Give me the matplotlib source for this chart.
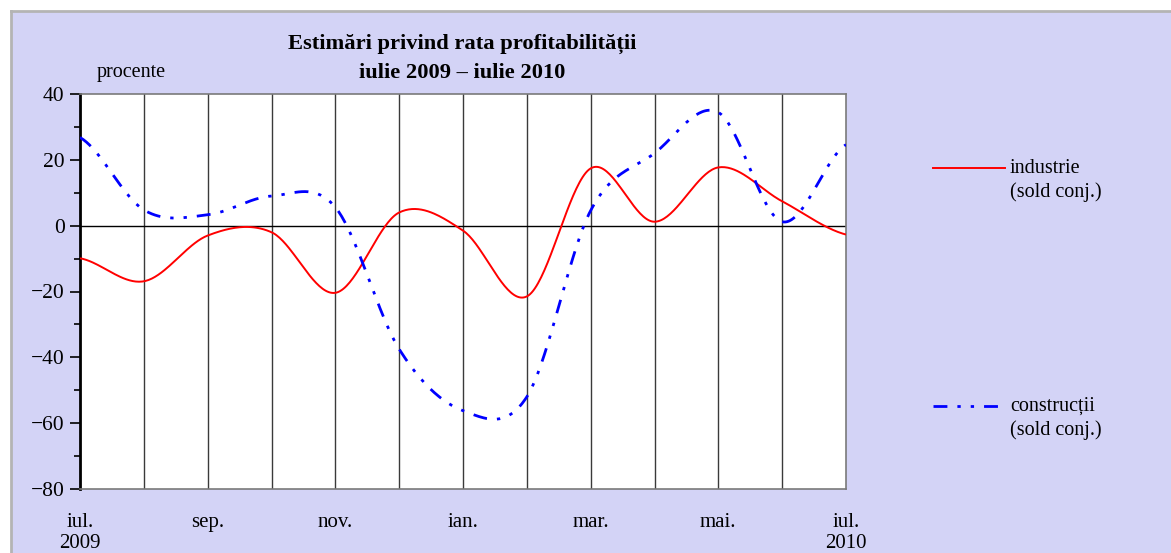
import numpy as np
import matplotlib
matplotlib.use('Agg')
import matplotlib.pyplot as plt
from matplotlib.lines import Line2D
from matplotlib.patches import Rectangle

# ---- data (monthly, iul. 2009 - iul. 2010) ----
months = ['iul.', 'aug.', 'sep.', 'oct.', 'nov.', 'dec.', 'ian.',
          'feb.', 'mar.', 'apr.', 'mai.', 'iun.', 'iul.']
tick_labels = ['iul.\n2009', '', 'sep.', '', 'nov.', '', 'ian.',
               '', 'mar.', '', 'mai.', '', 'iul.\n2010']
industrie = [-9.9, -16.9, -3.0, -2.0, -20.4, 4.0, -1.5,
             -21.5, 17.4, 1.2, 17.7, 7.4, -2.7]
constructii = [26.8, 4.8, 3.3, 9.0, 5.6, -37.5, -56.2,
               -52.0, 4.6, 22.0, 34.4, 1.2, 24.6]

W, H = 1171, 553
plt.rcParams['font.family'] = ['Liberation Serif', 'DejaVu Serif']


def smooth(y, n=40):
    """Excel-style smoothed line (Catmull-Rom Bezier) through monthly points."""
    y = np.asarray(y, float)
    p = np.concatenate([[y[0]], y, [y[-1]]])
    xs, ys = [], []
    for i in range(len(y) - 1):
        p0, p1, p2, p3 = p[i], p[i + 1], p[i + 2], p[i + 3]
        t = np.linspace(0, 1, n, endpoint=(i == len(y) - 2))
        c1 = p1 + (p2 - p0) / 6.0
        c2 = p2 - (p3 - p1) / 6.0
        b = ((1 - t) ** 3) * p1 + 3 * ((1 - t) ** 2) * t * c1 + 3 * (1 - t) * t ** 2 * c2 + t ** 3 * p2
        xs.append(i + t)
        ys.append(b)
    return np.concatenate(xs), np.concatenate(ys)


fig = plt.figure(figsize=(W / 100, H / 100), dpi=100)
fig.patch.set_facecolor('white')

# patterned background approximation
bg = Rectangle((12 / W, 0), 1 - 12 / W, 1 - 12 / H, transform=fig.transFigure,
               facecolor='#d3d3f6', edgecolor='none', zorder=-10)
fig.add_artist(bg)
fig.add_artist(Line2D([11 / W, 1], [1 - 11 / H, 1 - 11 / H], transform=fig.transFigure,
                      color='#b4b4b4', lw=2, zorder=-9))
fig.add_artist(Line2D([11 / W, 11 / W], [0, 1 - 11 / H], transform=fig.transFigure,
                      color='#b4b4b4', lw=2, zorder=-9))

left, right, top, bottom = 80, 846, 94, 489
ax = fig.add_axes([left / W, 1 - bottom / H, (right - left) / W, (bottom - top) / H])
ax.set_facecolor('white')

x = np.arange(len(months))
ax.set_xlim(0, len(months) - 1)
ax.set_ylim(-80, 40)

for xi in x[1:-1]:
    ax.axvline(xi, color='#3a3a3a', lw=1.0, zorder=1)
ax.axhline(0, color='black', lw=1.0, zorder=1)

xs, ys = smooth(industrie)
ax.plot(xs, ys, color='#ff0000', lw=1.4, zorder=3, solid_capstyle='butt')
xs2, ys2 = smooth(constructii)
blue_ls = (0, (5.0, 3.6, 1.2, 3.6, 1.2, 3.6))
ax.plot(xs2, ys2, color='#0000ff', lw=2.0, ls=blue_ls, zorder=4)

for s in ['top', 'right', 'bottom']:
    ax.spines[s].set_color('#7a7a7a')
    ax.spines[s].set_linewidth(1.2)
ax.spines['left'].set_color('black')
ax.spines['left'].set_linewidth(2.0)

ax.set_yticks(np.arange(-80, 41, 20))
ax.set_yticklabels(['\u221280', '\u221260', '\u221240', '\u221220', '0', '20', '40'])
ax.set_yticks(np.arange(-70, 40, 20), minor=True)
ax.tick_params(axis='y', which='major', direction='out', length=7, width=1.2,
               labelsize=15.5, pad=4, color='black')
ax.tick_params(axis='y', which='minor', direction='out', length=4, width=1.2, color='black')

ax.set_xticks(x)
ax.set_xticklabels(tick_labels, linespacing=1.2)
ax.tick_params(axis='x', which='major', length=0, labelsize=15, pad=17)

# title and unit label
fig.text(462 / W, 1 - 44 / H, 'Estimări privind rata profitabilității', ha='center', va='center',
         fontsize=16.2, fontweight='bold')
fig.text(462 / W, 1 - 73 / H, 'iulie 2009 \u2013 iulie 2010', ha='center', va='center',
         fontsize=16.2, fontweight='bold')
fig.text(97 / W, 1 - 72 / H, 'procente', ha='left', va='center', fontsize=14.5)

# legend (manual)
fig.add_artist(Line2D([933 / W, 1005 / W], [1 - 168 / H, 1 - 168 / H], transform=fig.transFigure,
                      color='#ff0000', lw=1.4))
fig.text(1010 / W, 1 - 168 / H, 'industrie', ha='left', va='center', fontsize=14.5)
fig.text(1010 / W, 1 - 192 / H, '(sold conj.)', ha='left', va='center', fontsize=14.5)
fig.add_artist(Line2D([933 / W, 1005 / W], [1 - 406 / H, 1 - 406 / H], transform=fig.transFigure,
                      color='#0000ff', lw=2.0, ls=blue_ls))
fig.text(1010 / W, 1 - 406 / H, 'construcții', ha='left', va='center', fontsize=14.5)
fig.text(1010 / W, 1 - 430 / H, '(sold conj.)', ha='left', va='center', fontsize=14.5)

fig.savefig('out.png', dpi=100)
